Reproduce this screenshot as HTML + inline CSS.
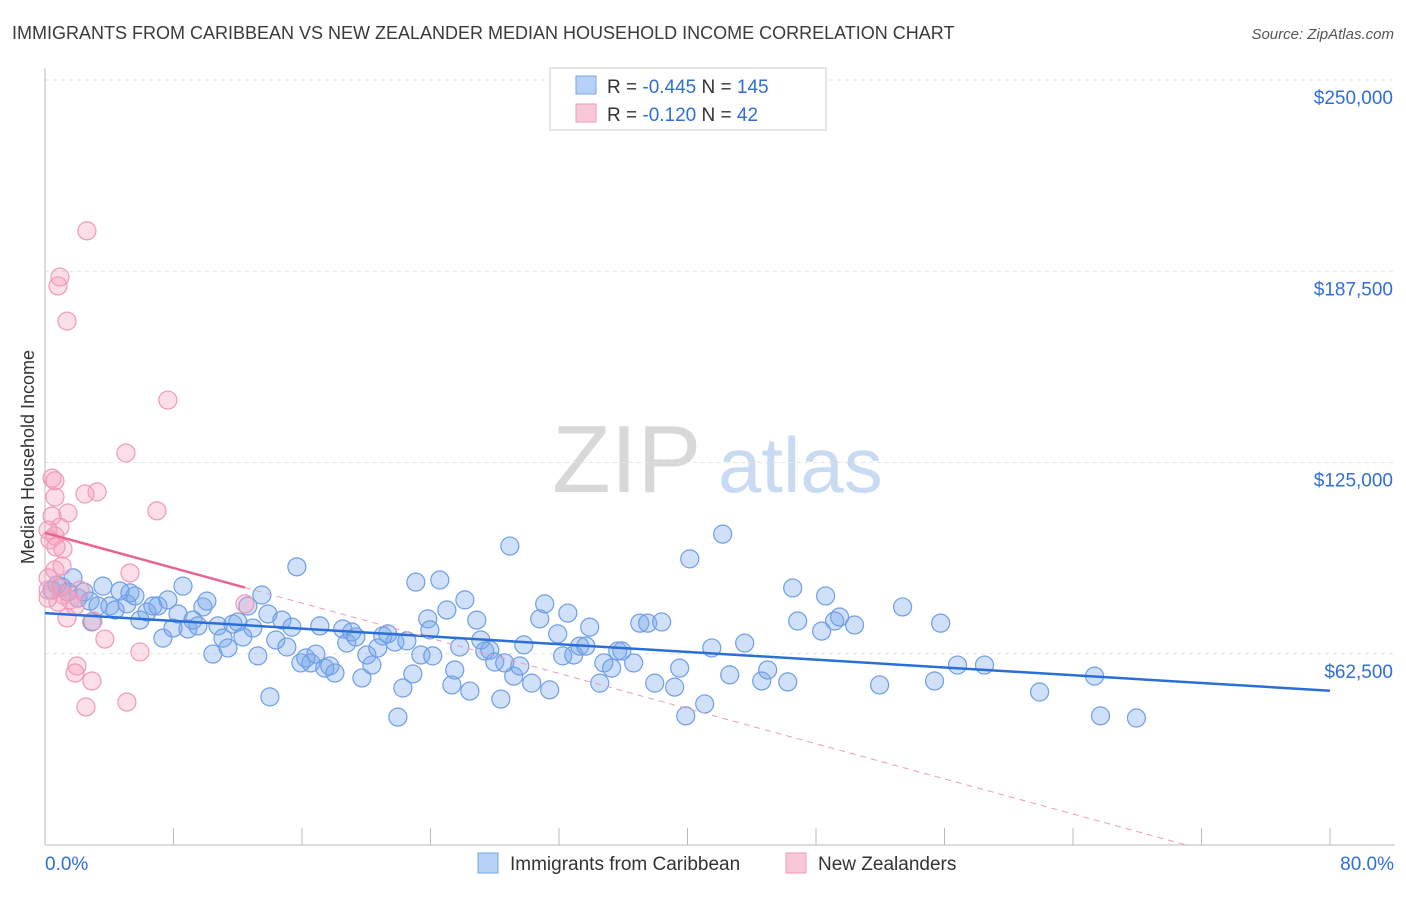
<!DOCTYPE html>
<html><head><meta charset="utf-8"><style>
body{margin:0;background:#fff;font-family:"Liberation Sans",sans-serif}
svg text{font-family:"Liberation Sans",sans-serif}
</style></head><body>
<svg id="chart" width="1406" height="892" xmlns="http://www.w3.org/2000/svg">
<text x="12" y="39" font-size="18" fill="#3a3a3a">IMMIGRANTS FROM CARIBBEAN VS NEW ZEALANDER MEDIAN HOUSEHOLD INCOME CORRELATION CHART</text>
<text x="1394" y="39" font-size="15" fill="#555" text-anchor="end" font-style="italic">Source: ZipAtlas.com</text>
<g>
<text x="552" y="492" font-size="96" font-family="Liberation Serif" fill="#d8d8d8">ZIP</text>
<text x="718" y="492" font-size="78" fill="#c9dbf2">atlas</text>
</g>
<g id="grid"></g>
<g id="axes"></g>
<g id="marks"></g>
<text transform="translate(34,457) rotate(-90)" font-size="18" fill="#333" text-anchor="middle">Median Household Income</text>
<g>
<rect x="550" y="68" width="276" height="62" fill="#fff" stroke="#ccc"/>
<rect x="576" y="76" width="20" height="18" fill="#b7d0f5" stroke="#7aa6e6"/>
<text x="607" y="93" font-size="19" fill="#333">R = <tspan fill="#2f6fd6">-0.445</tspan>    N = <tspan fill="#2f6fd6">145</tspan></text>
<rect x="576" y="104" width="20" height="18" fill="#f9c8d8" stroke="#ee9ab8"/>
<text x="607" y="121" font-size="19" fill="#333">R =  <tspan fill="#2f6fd6">-0.120</tspan>    N =   <tspan fill="#2f6fd6">42</tspan></text>
</g>
<g>
<rect x="478" y="853" width="20" height="20" fill="#b7d0f5" stroke="#7aa6e6"/>
<text x="510" y="870" font-size="19" fill="#333">Immigrants from Caribbean</text>
<rect x="786" y="853" width="20" height="20" fill="#f9c8d8" stroke="#ee9ab8"/>
<text x="818" y="870" font-size="19" fill="#333">New Zealanders</text>
</g>
</svg>
<script>
const blueX=[0.44,0.75,1.06,1.43,1.74,2.05,2.43,2.8,2.92,3.3,3.61,4.04,4.36,4.67,5.1,5.29,5.6,5.91,6.35,6.72,7.03,7.34,7.65,7.97,8.28,8.59,8.9,9.21,9.52,9.83,10.08,10.45,10.77,11.08,11.39,11.7,12.01,12.32,12.63,12.94,13.25,13.5,13.88,14,14.37,14.75,15.06,15.37,15.68,15.93,16.24,16.55,16.86,17.11,17.42,17.73,18.05,18.54,18.79,19.1,19.35,19.73,20.04,20.35,20.72,21.03,21.34,21.78,21.97,22.28,22.53,22.9,23.09,23.4,23.83,23.96,24.14,24.58,25.02,25.33,25.51,25.82,26.14,26.45,26.88,27.13,27.38,27.69,28,28.38,28.62,28.94,29.18,29.56,29.81,30.3,30.8,31.11,31.42,31.92,32.23,32.55,32.92,33.29,33.67,33.91,34.54,34.79,35.28,35.66,35.91,36.65,37.03,37.52,37.96,38.39,39.2,39.51,39.89,40.14,41.07,41.51,42.19,42.63,43.56,44.62,44.99,46.24,46.55,46.86,48.35,48.6,49.16,49.47,50.4,51.96,53.39,55.38,55.76,56.81,58.49,61.92,65.34,65.71,67.95];
const blueY=[83.3,85,84.3,82.7,87.3,80.7,82.7,79.7,72.9,78.1,84.6,78.1,76.8,83,78.8,82.4,81.4,73.5,76.1,78.1,78.1,67.6,80.1,70.9,75.5,84.6,70.6,73.5,71.6,77.8,79.7,62.4,71.6,67.6,64.4,72.2,72.9,68,78.1,70.9,61.8,81.7,75.5,48.4,67,73.5,64.7,71.2,90.9,59.5,61.1,59.5,62.4,71.6,57.8,58.5,56.2,70.6,66,69.6,68,54.6,62.1,58.8,64.4,68.3,69,66.3,41.8,51.3,66.7,55.9,85.9,62.1,73.9,70.3,61.8,86.6,76.8,52.3,57.2,64.7,80.1,50.3,73.5,67,63.4,63.7,59.8,47.7,59.5,97.7,55.2,58.5,65.4,52.9,73.9,78.8,50.7,69,61.8,75.8,62.1,65,65,71.2,52.9,59.5,57.8,63.4,63.4,59.5,72.5,72.5,52.9,72.9,51.6,57.8,42.2,93.5,46.1,64.4,101.6,55.6,66,53.6,57.2,53.3,84,73.2,69.9,81.4,73.2,74.5,71.9,52.3,77.8,53.6,72.5,58.8,58.8,50,55.2,42.2,41.5];
const pinkX=[2.61,0.93,0.81,1.37,7.65,5.04,0.44,0.62,3.24,2.49,0.62,1.43,6.97,0.44,0.93,0.19,0.62,0.31,1.12,0.68,5.29,0.62,0.19,1.06,2.18,1.56,1.87,1.12,0.81,0.19,12.45,2.99,1.37,3.73,5.91,1.99,1.87,2.92,5.1,2.55,0.19,0.93];
const pinkY=[200.7,185.6,182.7,171.2,145.4,128.1,119.9,119,115.4,114.7,113.7,108.5,109.2,107.5,103.9,102.9,101,99.7,96.7,97.4,88.9,89.9,87.3,91.2,83.3,80.1,78.1,81.7,79.4,80.7,78.8,73.2,74.2,67.3,63.1,58.5,56.2,53.6,46.7,45.1,83.3,84];
const yTicks=[62.5,125,187.5,250];
const yTickLabels=["$62,500","$125,000","$187,500","$250,000"];
const xTicks=[0,8,16,24,32,40,48,56,64,72,80];
const NS="http://www.w3.org/2000/svg";
const sx=p=>45+p*16.0625;
const sy=v=>845-v*3.06;
function mk(tag,attrs,parent){const e=document.createElementNS(NS,tag);for(const k in attrs)e.setAttribute(k,attrs[k]);document.getElementById(parent).appendChild(e);return e;}
yTicks.forEach((t,i)=>{
 const l=mk('line',{x1:45,x2:1395,y1:sy(t),y2:sy(t),stroke:'#e3e3e3','stroke-dasharray':'4,4'},'grid');
 
 
 const tx=mk('text',{x:1393,y:sy(t)+24,'text-anchor':'end','font-size':19,fill:'#2f6fd6'},'axes');
 tx.textContent=yTickLabels[i];
 
 
});
const ax=mk('line',{x1:45,x2:1395,y1:845,y2:845,stroke:'#bbb'},'axes');


const ay=mk('line',{x1:45,x2:45,y1:68,y2:845,stroke:'#bbb'},'axes');


xTicks.forEach(t=>{
 const l=mk('line',{x1:sx(t),x2:sx(t),y1:828,y2:845,stroke:'#bbb'},'axes');
 
 
});
const xl0=mk('text',{x:45,y:870,'font-size':19,fill:'#2f6fd6'},'axes');
xl0.textContent=xTicks[0].toFixed(1)+'%';


const xl1=mk('text',{x:1394,y:870,'font-size':19,fill:'#2f6fd6','text-anchor':'end'},'axes');
xl1.textContent=xTicks[xTicks.length-1].toFixed(1)+'%';


function reg(X,Y){const n=X.length;let mx=0,my=0;for(let i=0;i<n;i++){mx+=X[i];my+=Y[i];}mx/=n;my/=n;let a=0,b=0;for(let i=0;i<n;i++){a+=(X[i]-mx)*(Y[i]-my);b+=(X[i]-mx)**2;}const s=a/b;return [my-s*mx,s];}
blueX.forEach((x,i)=>{
 const c=mk('circle',{cx:sx(x),cy:sy(blueY[i]),r:9,fill:'rgba(120,165,235,0.35)',stroke:'#6d9ee6','stroke-width':1.2},'marks');
 
 
});
pinkX.forEach((x,i)=>{
 const c=mk('circle',{cx:sx(x),cy:sy(pinkY[i]),r:9,fill:'rgba(245,160,190,0.35)',stroke:'#ee9ab8','stroke-width':1.2},'marks');
 
 
});
const [bi,bs]=reg(blueX,blueY);
const bl=mk('line',{x1:sx(0),y1:sy(bi),x2:sx(80),y2:sy(bi+bs*80),stroke:'#2a6fd8','stroke-width':2.5},'marks');


const [pi,ps]=reg(pinkX,pinkY);
const pmax=Math.max(...pinkX);
const pl=mk('line',{x1:sx(0),y1:sy(pi),x2:sx(pmax),y2:sy(pi+ps*pmax),stroke:'#e8648f','stroke-width':2.5},'marks');


const xz=ps<0?Math.min(80,-pi/ps):80;
const pd=mk('line',{x1:sx(pmax),y1:sy(pi+ps*pmax),x2:sx(xz),y2:sy(pi+ps*xz),stroke:'#ee9ab8','stroke-width':1,'stroke-dasharray':'6,5'},'marks');


</script>
</body></html>
